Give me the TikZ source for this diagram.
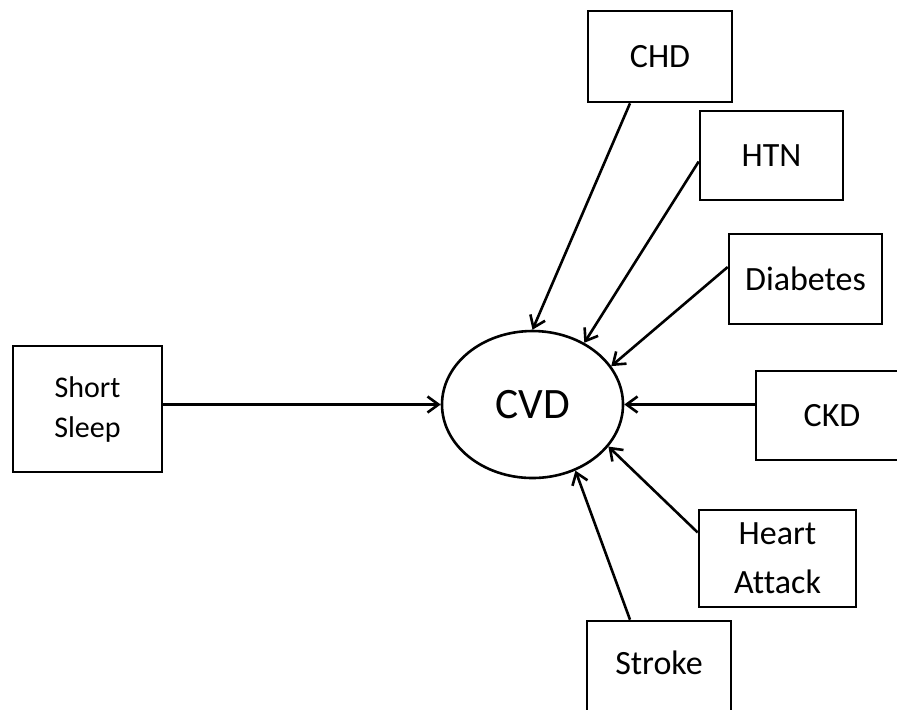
\documentclass[tikz,border=0pt]{standalone}
\usepackage{fontspec}
\setmainfont[Ligatures=NoCommon]{Carlito}
\usepackage{tikz}
\usetikzlibrary{arrows.meta}
\usetikzlibrary{shapes.geometric}
\tikzstyle{every node}+=[inner sep=0pt]
\tikzstyle{block} = [rectangle, draw, line width=1.3pt, align=center, font=\fontsize{17}{24.5}\selectfont, minimum width=72pt, minimum height=45pt]
\tikzstyle{outcome} = [ellipse, draw, line width=1.3pt, font=\fontsize{21.7}{26}\selectfont, minimum width=90.5pt, minimum height=73.5pt]
\tikzstyle{line} = [draw, line width=1.3pt, -{Straight Barb[length=5.5pt,width=8pt]}]

\begin{document}
\begin{tikzpicture}[x=0.5pt, y=-0.5pt]
            \useasboundingbox (0,0) rectangle (897,709);
            % Place nodes
            \node [outcome] (cvd) at (532.5,404.5) {CVD};
            \node [block, minimum width=74.5pt, minimum height=63pt, font=\fontsize{15}{20}\selectfont] (sleep) at (87.5,409) {Short\\Sleep};
            \node [block, minimum width=72pt, minimum height=45.5pt] (chd) at (660,56.5) {CHD};
            \node [block, minimum width=71.5pt, minimum height=44.5pt] (htn) at (771.5,155.5) {HTN};
            \node [block, minimum width=76.5pt, minimum height=45pt] (diab) at (805.5,279) {Diabetes};
            \node [block, minimum width=76pt, minimum height=44.5pt] (ckd) at (832,415.5) {CKD};
            \node [block, minimum width=78.5pt, minimum height=48.5pt] (ha) at (777.5,558.5) {Heart\\Attack};
            \node [block, minimum width=72pt, minimum height=45.5pt, text depth=4pt] (stroke) at (659,666.5) {Stroke};
            % Draw edges
            \path [line] (sleep.east |- cvd.west) -- (cvd.west);
            \path [line] ([xshift=-15pt]chd.south) -- (cvd.90);
            \path [line] ([yshift=-3pt]htn.west) -- (cvd.50);
            \path [line] ([yshift=6pt]diab.west) -- (cvd.26);
            \path [line] (ckd.west |- cvd.east) -- (cvd.east);
            \path [line] ([yshift=13pt]ha.west) -- (cvd.-29);
            \path [line] ([xshift=-14.5pt]stroke.north) -- (cvd.-57);
\end{tikzpicture}
\end{document}
